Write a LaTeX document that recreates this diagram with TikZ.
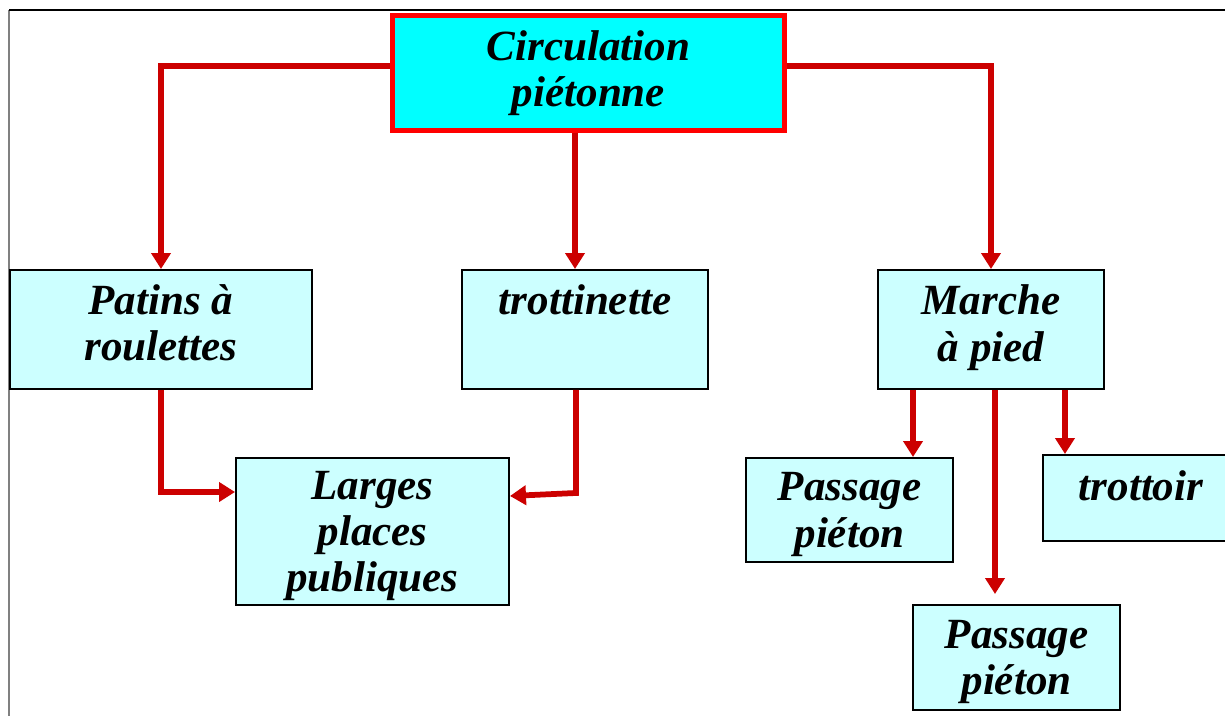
\documentclass[tikz,border=0pt]{standalone}
\usepackage{fontspec}
\setmainfont{Liberation Serif}
\usetikzlibrary{arrows.meta}

\definecolor{boxcyan}{HTML}{CCFFFF}
\definecolor{topcyan}{HTML}{00FFFF}
\definecolor{arrowred}{HTML}{CC0000}

\tikzset{
    box/.style={draw=black, line width=0.04cm, fill=boxcyan, align=center,
        inner sep=0pt, font=\fontsize{24.5}{26.3}\selectfont\bfseries\itshape},
    topbox/.style={box, draw=red, line width=0.1cm, fill=topcyan},
    arr/.style={draw=arrowred, line width=0.115cm, -{Triangle[length=0.32cm, width=0.38cm]}}
}

\begin{document}
\begin{tikzpicture}[x=0.02cm, y=-0.02cm]
    \useasboundingbox (0,0) rectangle (1225,716);

    % Frame of the page
    \draw[gray, line width=0.03cm] (9,716) -- (9,10);
    \draw[black, line width=0.03cm] (9,10) -- (1225,10);

    % Top box
    \node[topbox, minimum width=7.86cm, minimum height=2.32cm] (circ) at (588.5,73) {Circulation\\piétonne};

    % Second row
    \node[box, minimum width=6.04cm, minimum height=2.38cm, text depth=0.28cm] (patins) at (161,329.5) {Patins à\\roulettes};
    \node[box, minimum width=4.92cm, minimum height=2.38cm, text height=0.5cm, text depth=1.12cm] (trott) at (585,329.5) {trottinette};
    \node[box, minimum width=4.52cm, minimum height=2.38cm, text depth=0.26cm] (marche) at (991,329.5) {Marche\\à pied};

    % Third row
    \node[box, minimum width=5.46cm, minimum height=2.94cm, text depth=-0.1cm] (larges) at (372.5,531.5) {Larges\\places\\publiques};
    \node[box, minimum width=4.14cm, minimum height=2.08cm, text depth=-0.06cm] (passA) at (849.5,510) {Passage\\piéton};
    \node[box, minimum width=3.92cm, minimum height=1.72cm, text height=0.5cm, text depth=0.38cm] (trottoir) at (1141,498) {trottoir};
    \node[box, minimum width=4.14cm, minimum height=2.1cm, text depth=-0.06cm] (passB) at (1016.5,657.5) {Passage\\piéton};

    % Arrows from the top box
    \draw[arr] ([yshift=0.14cm]circ.west) -| (patins.north);
    \draw[arr] ([xshift=-0.27cm]circ.south) -- ([xshift=-0.27cm]circ.south |- trott.north);
    \draw[arr] ([yshift=0.14cm]circ.east) -| (marche.north);

    % Arrows to the public places
    \draw[arr] (patins.south) |- ([yshift=0.79cm]larges.west);
    \draw[arr] ([xshift=-0.18cm]trott.south) -- ++(0,103) -- ([yshift=0.71cm]larges.east);

    % Arrows from walking
    \draw[arr] ([xshift=-1.56cm]marche.south) -- ([xshift=-1.56cm]marche.south |- passA.north);
    \draw[arr, shorten >=0.2cm] ([xshift=0.08cm]marche.south) -- ([xshift=0.08cm]marche.south |- passB.north);
    \draw[arr] ([xshift=1.48cm]marche.south) -- ([xshift=1.48cm]marche.south |- trottoir.north);
\end{tikzpicture}
\end{document}
